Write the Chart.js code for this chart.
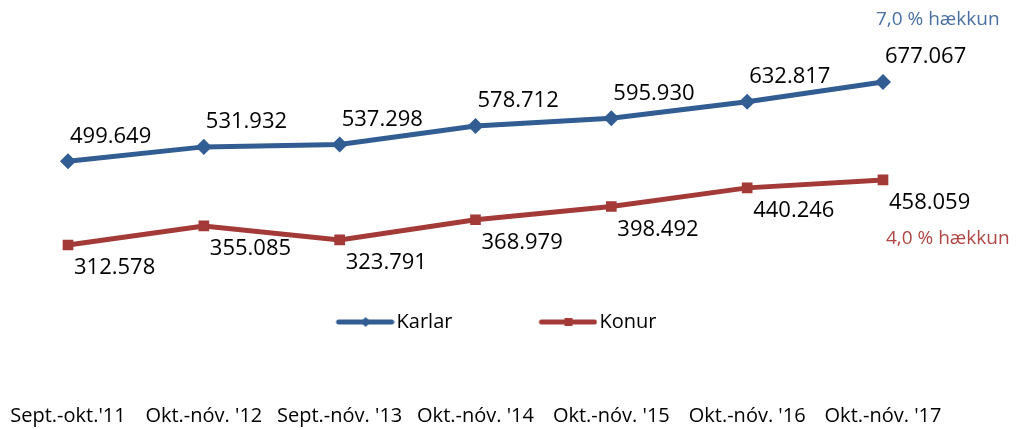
<!DOCTYPE html>
<html>
<head>
<meta charset="utf-8">
<script src="https://cdn.jsdelivr.net/npm/chart.js@4/dist/chart.umd.min.js"></script>
<style>
body{margin:0;background:#fff;}
#wrap{width:1016px;height:430px;}
</style>
</head>
<body>
<div id="wrap"><canvas id="fjoldiChart"></canvas></div>
<script>

// DATA

const periods = ["Sept.-okt.'11", "Okt.-nóv. '12", "Sept.-nóv. '13", "Okt.-nóv. '14", "Okt.-nóv. '15", "Okt.-nóv. '16", "Okt.-nóv. '17"];
const karlar = [499649, 531932, 537298, 578712, 595930, 632817, 677067];
const konur = [312578, 355085, 323791, 368979, 398492, 440246, 458059];
const seriesNames = ["Karlar", "Konur"];
const growthNotes = ["7,0 % hækkun", "4,0 % hækkun"];

const BLUE = "#325d93";
const RED = "#a33a38";
const FONT = "'Open Sans', 'Liberation Sans', sans-serif";

// legend icon: line with marker, drawn on a small canvas
function legendIcon(color, marker){
const c = document.createElement("canvas");
c.width = 143;
c.height = 14;
const g = c.getContext("2d");
g.strokeStyle = color;
g.fillStyle = color;
g.lineWidth = 5;
g.lineCap = "round";
g.beginPath();
g.moveTo(c.width-56, 7);
g.lineTo(c.width-3, 7);
g.stroke();
const mx = c.width-29;
g.beginPath();
if(marker=="diamond"){
g.moveTo(mx, 2); g.lineTo(mx+5, 7); g.lineTo(mx, 12); g.lineTo(mx-5, 7);
}else{
g.rect(mx-4, 3, 8, 8);
}
g.closePath();
g.fill();
return c;
}

const icons = [legendIcon(BLUE, "diamond"), legendIcon(RED, "square")];

function fmt(v){
return (v/1000).toFixed(3);
}

// value labels + growth notes
const valueLabels = {
id:"valueLabels",
afterDatasetsDraw(chart){
const ctx = chart.ctx;
ctx.save();
ctx.textBaseline = "middle";
ctx.textAlign = "left";
chart.data.datasets.forEach((ds, i)=>{
const pts = chart.getDatasetMeta(i).data;
ctx.font = "22px " + FONT;
ctx.fillStyle = "#000";
pts.forEach((p, j)=>{
if(i==0){
ctx.fillText(fmt(ds.data[j]), p.x+2, p.y-25);
}else{
ctx.fillText(fmt(ds.data[j]), p.x+6, p.y+23);
}
});
const last = pts[pts.length-1];
ctx.font = "19px " + FONT;
ctx.fillStyle = i==0 ? "#4a70a3" : "#b04643";
if(i==0){
ctx.fillText(growthNotes[0], last.x-7, last.y-62);
}else{
ctx.fillText(growthNotes[1], last.x+3, last.y+59);
}
});
ctx.restore();
}
};

const ctx = document.getElementById("fjoldiChart");

new Chart(ctx,{

type:"line",

data:{
labels:periods,
datasets:[{
label:seriesNames[0],
data:karlar,
borderColor:BLUE,
backgroundColor:BLUE,
borderWidth:5,
pointStyle:"rectRot",
pointRadius:4.5,
pointHoverRadius:4.5,
fill:false,
tension:0
},{
label:seriesNames[1],
data:konur,
borderColor:RED,
backgroundColor:RED,
borderWidth:5,
pointStyle:"rect",
pointRadius:4,
pointHoverRadius:4,
fill:false,
tension:0
}]
},

options:{
responsive:true,
maintainAspectRatio:false,
animation:false,
layout:{padding:{top:20, left:33, right:133, bottom:2}},
scales:{
x:{
weight:2000,
grid:{display:false, drawTicks:false},
border:{display:false},
ticks:{
autoSkip:false,
maxRotation:0,
padding:62,
color:"#000",
font:{family:FONT, size:20}
},
afterFit:function(scale){
// labels sit low, but the axis should not eat the side space
scale.paddingLeft = 0;
scale.paddingRight = 0;
scale.height = 86;
}
},
y:{
min:185000,
max:815700,
grid:{display:false, drawTicks:false},
border:{display:false},
ticks:{display:false},
afterFit:function(scale){ scale.width = 35; }
}
},
plugins:{
tooltip:{enabled:false},
legend:{
position:"bottom",
labels:{
usePointStyle:true,
pointStyleWidth:127,
padding:10,
color:"#000",
font:{family:FONT, size:20},
generateLabels:function(chart){
const items = Chart.defaults.plugins.legend.labels.generateLabels(chart);
items.forEach((it, i)=>{ it.pointStyle = icons[i]; });
return items;
}
}
}
}
},

plugins:[valueLabels]

});

</script>
</body>
</html>
